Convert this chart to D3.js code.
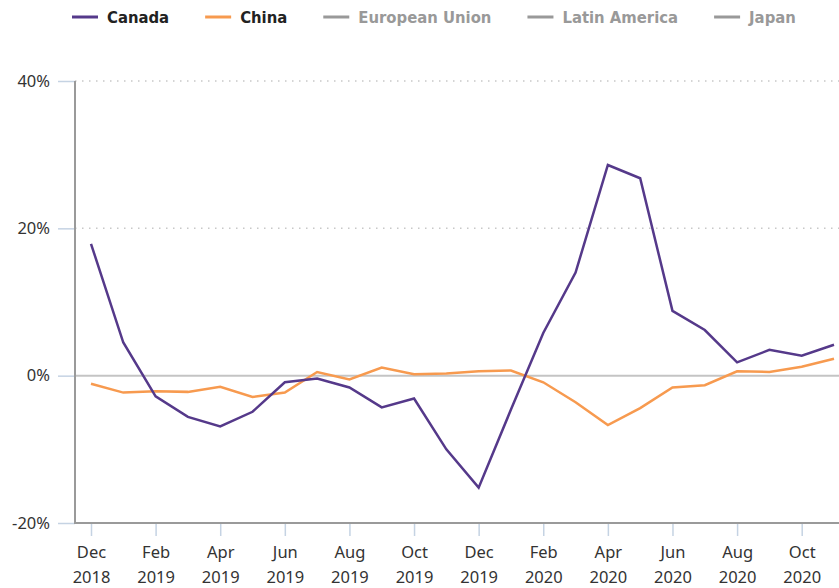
<!DOCTYPE html>
<html>
<head>
<meta charset="utf-8">
<script src="https://cdn.jsdelivr.net/npm/d3@7"></script>
<style>
  body { margin: 0; background: #fff; }
  svg { display: block; }
</style>
</head>
<body>
<div id="chart"></div>
<script>
// monthly values, Dec 2018 .. Nov 2020
const months = ["Dec 2018","Jan 2019","Feb 2019","Mar 2019","Apr 2019","May 2019","Jun 2019","Jul 2019",
  "Aug 2019","Sep 2019","Oct 2019","Nov 2019","Dec 2019","Jan 2020","Feb 2020","Mar 2020",
  "Apr 2020","May 2020","Jun 2020","Jul 2020","Aug 2020","Sep 2020","Oct 2020","Nov 2020"];
const canada = [17.9, 4.5, -2.8, -5.6, -6.9, -4.9, -0.9, -0.4, -1.6, -4.3, -3.1, -10.0,
  -15.2, -4.6, 5.8, 14.0, 28.6, 26.8, 8.8, 6.2, 1.8, 3.5, 2.7, 4.2];
const china = [-1.1, -2.3, -2.1, -2.2, -1.5, -2.9, -2.3, 0.5, -0.5, 1.1, 0.2, 0.3,
  0.6, 0.7, -0.9, -3.6, -6.7, -4.4, -1.6, -1.3, 0.6, 0.5, 1.2, 2.3];
const yTicks = [-20, 0, 20, 40];
const legendItems = [
  {name: "Canada", color: "#55398a", active: true},
  {name: "China", color: "#f79a4f", active: true},
  {name: "European Union", color: "#999999", active: false},
  {name: "Latin America", color: "#999999", active: false},
  {name: "Japan", color: "#999999", active: false}
];

const width = 839, height = 588;
const margin = {top: 81, right: 5, bottom: 65, left: 75};

const svg = d3.select("#chart").append("svg")
  .attr("width", width)
  .attr("height", height);

const x = d3.scalePoint().domain(months).range([91, 834]);
const y = d3.scaleLinear().domain([-20, 40]).range([height - margin.bottom, margin.top]);

// dotted grid lines
svg.append("g").selectAll("line")
  .data(yTicks.filter(d => d > 0))
  .enter().append("line")
  .attr("x1", margin.left).attr("x2", width)
  .attr("y1", d => y(d)).attr("y2", d => y(d))
  .style("stroke", "#c8c8c8")
  .style("stroke-width", 1.5)
  .style("stroke-dasharray", "1.5,5.5");

// zero line
svg.append("line")
  .attr("x1", margin.left).attr("x2", width)
  .attr("y1", y(0)).attr("y2", y(0))
  .style("stroke", "#c4c4c4")
  .style("stroke-width", 2);

// y axis
const yAxis = svg.append("g")
  .attr("transform", "translate(" + margin.left + ",0)")
  .call(d3.axisLeft(y).tickValues(yTicks).tickSize(17).tickPadding(8).tickFormat(d => d + "%"));
yAxis.select(".domain").remove();
yAxis.selectAll(".tick line").style("stroke", "#c5d3e3").style("stroke-width", 1.5);
yAxis.selectAll("text")
  .style("font-family", "'Noto Sans', sans-serif")
  .style("font-size", "16.5px")
  .style("fill", "#333");

// x axis
const xTickMonths = months.filter((d, i) => i % 2 === 0);
const xAxis = svg.append("g")
  .attr("transform", "translate(0," + y(-20) + ")")
  .call(d3.axisBottom(x).tickValues(xTickMonths).tickSize(13).tickFormat(""));
xAxis.select(".domain").remove();
xAxis.selectAll(".tick line").style("stroke", "#c5d3e3").style("stroke-width", 1.5);
xAxis.selectAll(".tick").append("text")
  .attr("text-anchor", "middle")
  .style("font-family", "'Noto Sans', sans-serif")
  .style("font-size", "16.5px")
  .style("fill", "#333")
  .each(function(d) {
    const parts = d.split(" ");
    d3.select(this).append("tspan").attr("x", 0).attr("y", 35).text(parts[0]);
    d3.select(this).append("tspan").attr("x", 0).attr("y", 60).text(parts[1]);
  });

// axis lines
svg.append("line")
  .attr("x1", margin.left).attr("x2", margin.left)
  .attr("y1", y(40)).attr("y2", y(-20))
  .style("stroke", "#9a9a9a").style("stroke-width", 2);
svg.append("line")
  .attr("x1", margin.left - 1).attr("x2", width)
  .attr("y1", y(-20)).attr("y2", y(-20))
  .style("stroke", "#9a9a9a").style("stroke-width", 2);

// series
const line = d3.line()
  .x((d, i) => x(months[i]))
  .y(d => y(d));

svg.append("path")
  .datum(china)
  .attr("d", line)
  .style("fill", "none")
  .style("stroke", legendItems[1].color)
  .style("stroke-width", 2.5);

svg.append("path")
  .datum(canada)
  .attr("d", line)
  .style("fill", "none")
  .style("stroke", legendItems[0].color)
  .style("stroke-width", 2.5);

// legend
const legend = svg.append("g").attr("class", "legend");
let lx = 72;
legendItems.forEach(function(item) {
  const g = legend.append("g").attr("transform", "translate(" + lx + ",17)");
  g.append("line")
    .attr("x1", 0).attr("x2", 26)
    .style("stroke", item.color)
    .style("stroke-width", 3);
  const t = g.append("text")
    .attr("x", 35).attr("y", 6)
    .style("font-family", "'DejaVu Sans Condensed', 'DejaVu Sans', sans-serif")
    .style("font-weight", "bold")
    .style("font-size", "16.5px")
    .style("fill", item.active ? "#222" : "#999")
    .text(item.name);
  lx += 35 + t.node().getComputedTextLength() + 36;
});
</script>
</body>
</html>
